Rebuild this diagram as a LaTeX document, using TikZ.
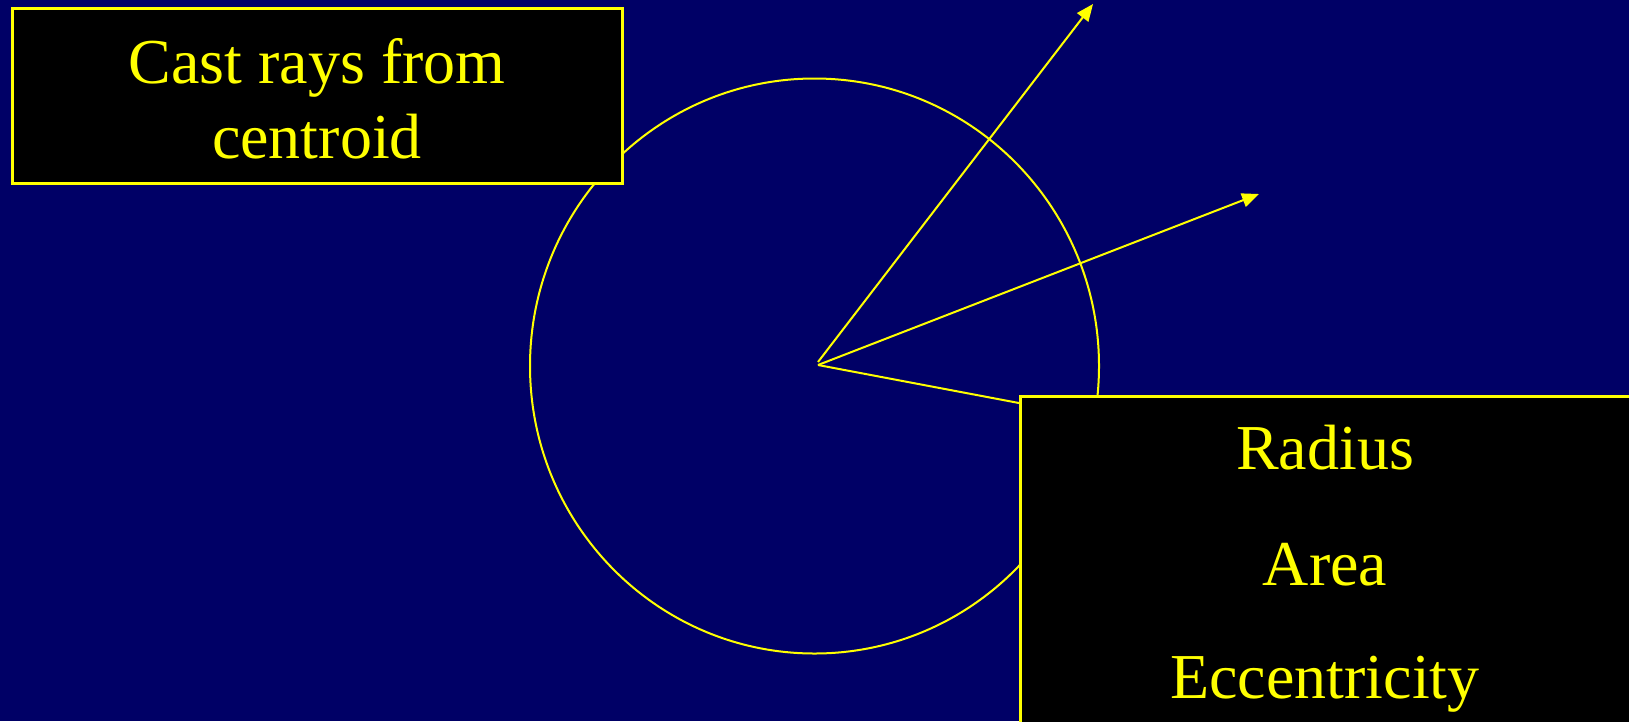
\documentclass[tikz,border=0pt]{standalone}
\usepackage{fontspec}
\setmainfont{Liberation Serif}
\usetikzlibrary{arrows.meta,shapes.geometric}
\definecolor{navybg}{RGB}{0,0,102}
\definecolor{ylw}{RGB}{255,255,0}
\tikzset{
  ray/.style={draw=ylw, line width=2pt},
  rayarrow/.style={ray, -{Triangle[length=17pt,width=14pt]}},
  outline/.style={draw=ylw, line width=2pt},
  blackbox/.style={draw=ylw, fill=black, line width=2.6pt, rectangle, inner sep=0pt, anchor=north west},
  label/.style={text=ylw, anchor=base, inner sep=0pt, font=\fontsize{64}{75}\selectfont}
}
\begin{document}
\begin{tikzpicture}[x=1pt,y=-1pt]
\useasboundingbox (0,0) rectangle (1629,721);
\fill[navybg] (0,0) rectangle (1629,721);
% circle
\node[outline, ellipse, minimum width=569pt, minimum height=575pt, inner sep=0pt] (circ) at (814.5,366) {};
% centroid and ray ends
\coordinate (c) at (818,365);
\coordinate (c1) at (818,362);
\coordinate (e1) at (1093,4);
\coordinate (e2) at (1259,194);
\coordinate (e3) at (1021,403.4);
\draw[rayarrow] (c1) -- (e1);
\draw[rayarrow] (c) -- (e2);
\draw[ray] (c) -- (e3);
% boxes
\node[blackbox, minimum width=610pt, minimum height=175pt] (box1) at (11,7) {};
\node[blackbox, minimum width=640pt, minimum height=360pt] (box2) at (1019,395) {};
% texts
\node[label] (t1) at (317,83) {Cast rays from};
\node[label] (t2) at (317,158) {centroid};
\node[label] (t3) at (1325,469.5) {Radius};
\node[label] (t4) at (1325,585) {Area};
\node[label] (t5) at (1325,698) {Eccentricity};
\end{tikzpicture}
\end{document}
